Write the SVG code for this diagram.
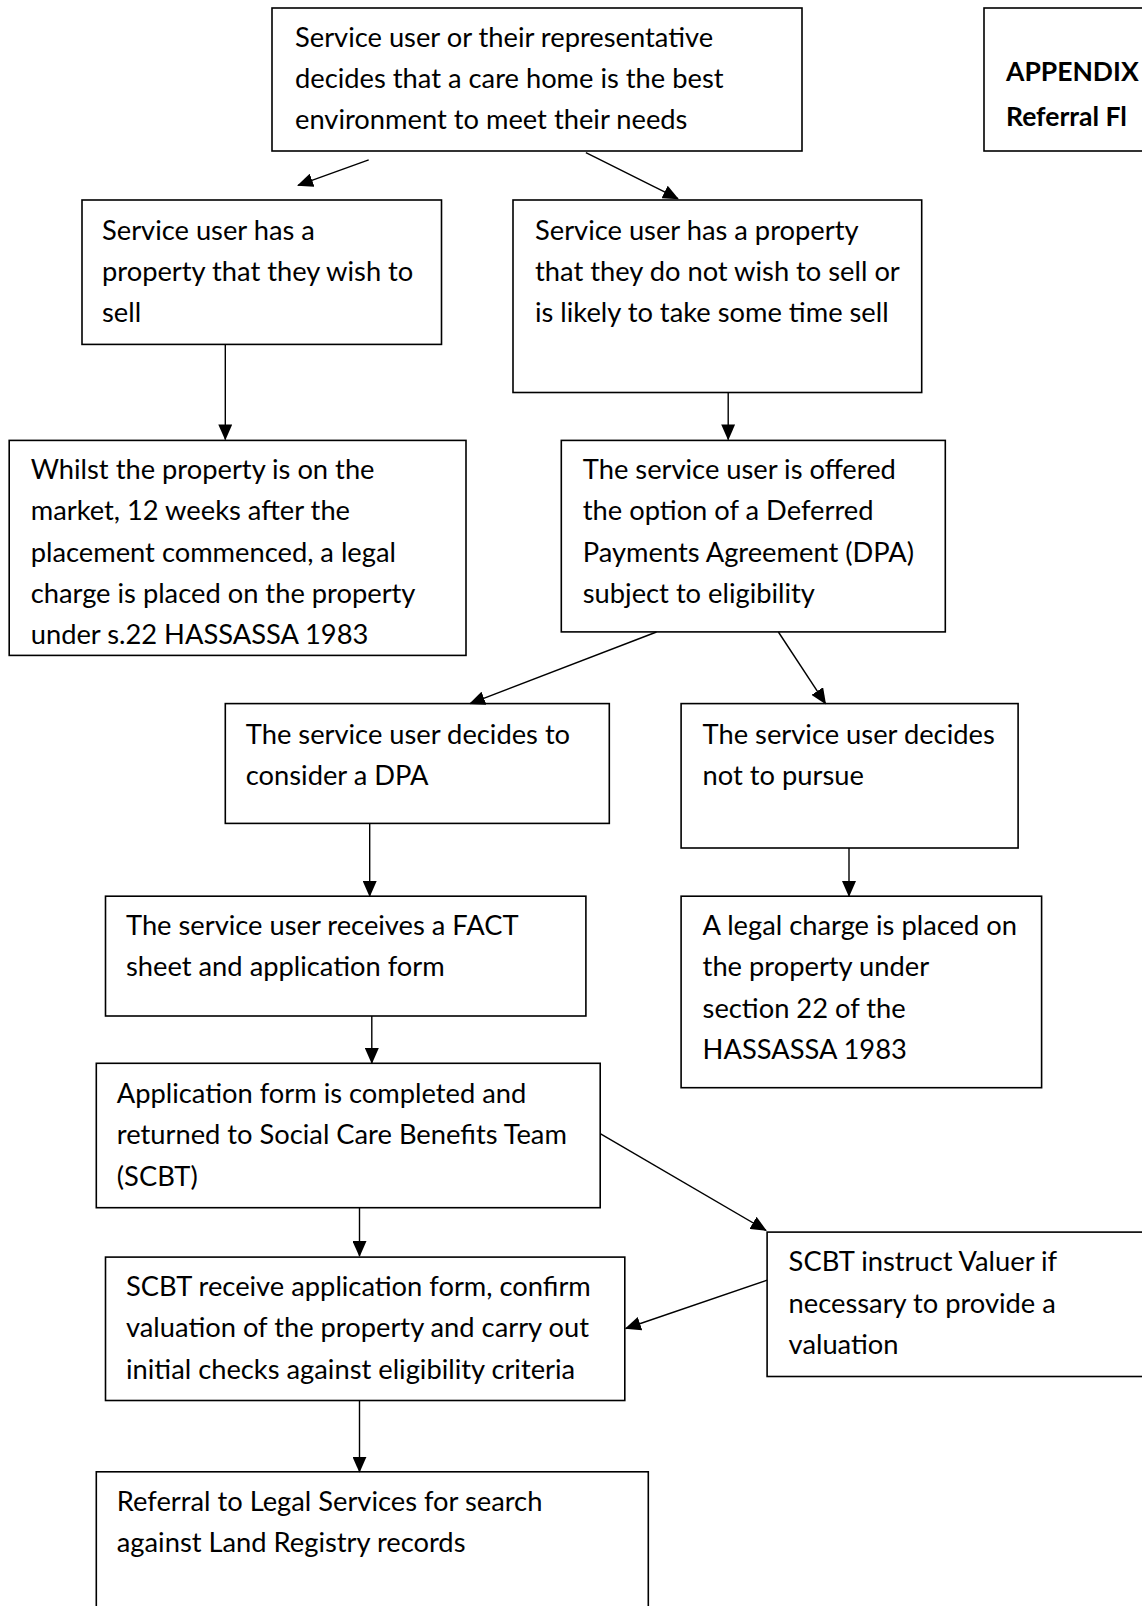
<svg xmlns="http://www.w3.org/2000/svg" width="1142" height="1606" viewBox="0 0 1142 1606">
<style>
rect.b{fill:#fff;stroke:#000;stroke-width:1.6}
text{font-family:Lato,"Open Sans",sans-serif;font-size:27.3px;fill:#000}
text.h{font-weight:bold;font-size:26.5px}
.c line{stroke:#000;stroke-width:1.4;marker-end:url(#ah)}
</style>
<defs>
<marker id="ah" markerUnits="userSpaceOnUse" markerWidth="16" markerHeight="14" refX="15" refY="7" orient="auto"><path d="M0,0 L16,7 L0,14 Z" fill="#000"/></marker>
</defs>
<rect width="1142" height="1606" fill="#fff"/>
<g id="n1"><rect class="b" x="272" y="8" width="530" height="143"/><text x="295" y="47">Service user or their representative</text><text x="295" y="88">decides that a care home is the best</text><text x="295" y="129">environment to meet their needs</text></g>
<g id="appendix"><rect class="b" x="984" y="8" width="200" height="143"/><text class="h" x="1006" y="81">APPENDIX</text><text class="h" x="1006" y="126">Referral Fl</text></g>
<g id="n2"><rect class="b" x="82" y="200" width="359.5" height="144.4"/><text x="102" y="239.6">Service user has a</text><text x="102" y="280.6">property that they wish to</text><text x="102" y="321.6">sell</text></g>
<g id="n3"><rect class="b" x="513" y="200" width="408.7" height="192.5"/><text x="535" y="239.6">Service user has a property</text><text x="535" y="280.6">that they do not wish to sell or</text><text x="535" y="321.6">is likely to take some time sell</text></g>
<g id="n4"><rect class="b" x="9.2" y="440.4" width="456.8" height="215"/><text x="30.7" y="479.3">Whilst the property is on the</text><text x="30.7" y="520.3">market, 12 weeks after the</text><text x="30.7" y="562.3">placement commenced, a legal</text><text x="30.7" y="603.2">charge is placed on the property</text><text x="30.7" y="644.2">under s.22 HASSASSA 1983</text></g>
<g id="n5"><rect class="b" x="561.3" y="440.4" width="384" height="191.5"/><text x="582.8" y="479.3">The service user is offered</text><text x="582.8" y="520.3">the option of a Deferred</text><text x="582.8" y="562.3">Payments Agreement (DPA)</text><text x="582.8" y="603.2">subject to eligibility</text></g>
<g id="n6"><rect class="b" x="225.3" y="703.6" width="384" height="119.8"/><text x="245.8" y="743.6">The service user decides to</text><text x="245.8" y="784.5">consider a DPA</text></g>
<g id="n7"><rect class="b" x="681.1" y="703.6" width="337" height="144.4"/><text x="702.6" y="743.6">The service user decides</text><text x="702.6" y="784.5">not to pursue</text></g>
<g id="n8"><rect class="b" x="105.5" y="896.2" width="480.4" height="119.8"/><text x="126" y="935.1">The service user receives a FACT</text><text x="126" y="976">sheet and application form</text></g>
<g id="n9"><rect class="b" x="681.1" y="896.2" width="360.5" height="191.5"/><text x="702.6" y="935.1">A legal charge is placed on</text><text x="702.6" y="976">the property under</text><text x="702.6" y="1018">section 22 of the</text><text x="702.6" y="1059">HASSASSA 1983</text></g>
<g id="n10"><rect class="b" x="96.3" y="1063.3" width="503.9" height="144.4"/><text x="116.8" y="1103.1">Application form is completed and</text><text x="116.8" y="1144">returned to Social Care Benefits Team</text><text x="116.8" y="1186">(SCBT)</text></g>
<g id="n11"><rect class="b" x="767.1" y="1232.1" width="400" height="144.4"/><text x="788.6" y="1271">SCBT instruct Valuer if</text><text x="788.6" y="1313">necessary to provide a</text><text x="788.6" y="1354">valuation</text></g>
<g id="n12"><rect class="b" x="105.5" y="1257.1" width="519.3" height="143.4"/><text x="126" y="1295.6">SCBT receive application form, confirm</text><text x="126" y="1336.6">valuation of the property and carry out</text><text x="126" y="1378.6">initial checks against eligibility criteria</text></g>
<g id="n13"><rect class="b" x="96.3" y="1471.8" width="552" height="200"/><text x="116.8" y="1510.7">Referral to Legal Services for search</text><text x="116.8" y="1551.7">against Land Registry records</text></g>
<g class="c" id="connectors">
<line x1="368.7" y1="159.8" x2="298" y2="185.4"/>
<line x1="585.9" y1="152.6" x2="678" y2="198.7"/>
<line x1="225.3" y1="344.1" x2="225.3" y2="439.4"/>
<line x1="728.2" y1="392.3" x2="728.2" y2="439.4"/>
<line x1="656.5" y1="632" x2="470" y2="703.6"/>
<line x1="778.4" y1="632" x2="825.5" y2="703.6"/>
<line x1="369.7" y1="823.5" x2="369.7" y2="896"/>
<line x1="849" y1="848" x2="849" y2="896"/>
<line x1="371.8" y1="1016" x2="371.8" y2="1063"/>
<line x1="359.5" y1="1207.6" x2="359.5" y2="1256"/>
<line x1="600.2" y1="1133.7" x2="766" y2="1230.4"/>
<line x1="767.1" y1="1280.2" x2="625.8" y2="1328.5"/>
<line x1="359.5" y1="1400.5" x2="359.5" y2="1471.8"/>
</g>
</svg>
